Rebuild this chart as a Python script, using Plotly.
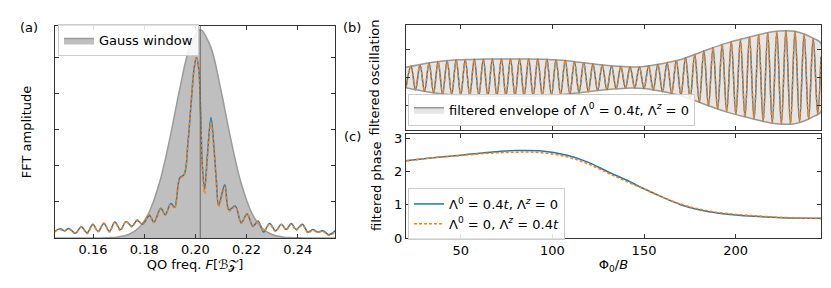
import plotly.graph_objects as go

W, H = 831, 288
def px(x):
    return x / W
def py(y):
    return 1 - y / H

# ---------------- (a) FFT spectrum ----------------
fft_freq = [0.1450, 0.1472, 0.1488, 0.1505, 0.1531, 0.1554, 0.1577, 0.1599, 0.1620, 0.1642,
            0.1664, 0.1685, 0.1707, 0.1729, 0.1752, 0.1772, 0.1794, 0.1820, 0.1838, 0.1865,
            0.1882, 0.1904, 0.1919, 0.1939, 0.1956, 0.1971, 0.1984, 0.1995, 0.2004, 0.2013,
            0.2021, 0.2027, 0.2036, 0.2047, 0.2061, 0.2073, 0.2082, 0.2091, 0.2115, 0.2131,
            0.2156, 0.2179, 0.2202, 0.2225, 0.2245, 0.2267, 0.2290, 0.2314, 0.2336, 0.2355,
            0.2375, 0.2394, 0.2418, 0.2440, 0.2459, 0.2479, 0.2498, 0.2522, 0.2547]
fft_amp_blue = [0.18, 0.25, 0.20, 0.26, 0.13, 0.31, 0.14, 0.38, 0.18, 0.40,
                0.18, 0.44, 0.23, 0.45, 0.32, 0.48, 0.38, 0.62, 0.44, 0.82,
                0.64, 0.95, 0.85, 1.66, 1.75, 2.64, 3.79, 4.68, 4.99, 4.68,
                3.35, 2.02, 1.35, 2.28, 3.33, 2.46, 1.57, 0.91, 1.47, 0.78,
                0.88, 0.42, 0.66, 0.32, 0.47, 0.16, 0.40, 0.20, 0.38, 0.23,
                0.40, 0.23, 0.38, 0.16, 0.23, 0.16, 0.20, 0.09, 0.20]
fft_amp_orange = [0.17, 0.23, 0.19, 0.24, 0.12, 0.30, 0.12, 0.36, 0.17, 0.41,
                  0.16, 0.43, 0.20, 0.46, 0.30, 0.50, 0.36, 0.65, 0.42, 0.80,
                  0.62, 0.93, 0.82, 1.64, 1.73, 2.62, 3.78, 4.68, 4.99, 4.66,
                  3.30, 1.95, 1.22, 2.20, 3.17, 2.36, 1.50, 0.86, 1.40, 0.74,
                  0.86, 0.40, 0.68, 0.35, 0.45, 0.19, 0.38, 0.18, 0.37, 0.22,
                  0.38, 0.21, 0.36, 0.14, 0.21, 0.15, 0.18, 0.07, 0.17]
gauss_freq = [0.145, 0.1619, 0.1659, 0.1699, 0.1739, 0.1779, 0.1819, 0.1859, 0.1899, 0.1939,
              0.1979, 0.2019, 0.2059, 0.2099, 0.2139, 0.2179, 0.2219, 0.2259, 0.2299, 0.2339,
              0.2379, 0.2419, 0.2547]
gauss_amp = [0, 0, 0.006, 0.027, 0.095, 0.28, 0.71, 1.51, 2.71, 4.12,
             5.30, 5.76, 5.30, 4.12, 2.71, 1.51, 0.71, 0.28, 0.095, 0.027,
             0.006, 0, 0]
gauss_center = 0.2019
freq_ticks = [0.16, 0.18, 0.20, 0.22, 0.24]
freq_ticklabels = ["0.16", "0.18", "0.20", "0.22", "0.24"]
amp_ticks = [0, 1, 2, 3, 4, 5]

# ---------------- (b) filtered oscillation ----------------
env_phi = [20.2, 28, 36, 45, 55, 65, 75, 85, 95, 105, 115, 125, 135, 143, 150,
           158, 164, 170, 178, 186, 195, 205, 213, 220, 227, 232, 238, 242, 246.5]
env_upper = [0.37, 0.47, 0.56, 0.62, 0.65, 0.67, 0.67, 0.67, 0.66, 0.62, 0.55, 0.47, 0.41, 0.38, 0.40,
             0.48, 0.56, 0.65, 0.84, 1.04, 1.24, 1.42, 1.55, 1.65, 1.69, 1.67, 1.55, 1.42, 1.23]
env_lower = [-0.37, -0.47, -0.56, -0.62, -0.65, -0.67, -0.67, -0.67, -0.66, -0.62, -0.55, -0.47, -0.41, -0.38, -0.40,
             -0.48, -0.56, -0.65, -0.84, -1.04, -1.24, -1.42, -1.55, -1.65, -1.69, -1.67, -1.55, -1.42, -1.23]
osc_phi = [20.2, 22.93, 25.39, 27.85, 30.31, 32.77, 35.24, 37.71, 40.17, 42.64,
           45.11, 47.57, 50.04, 52.51, 54.97, 57.44, 59.90, 62.36, 64.83, 67.30,
           69.77, 72.24, 74.71, 77.18, 79.66, 82.13, 84.61, 87.09, 89.56, 92.05,
           94.54, 97.02, 99.52, 102.02, 104.51, 107.02, 109.54, 112.05, 114.57, 117.10,
           119.62, 122.15, 124.69, 127.22, 129.75, 132.29, 134.81, 137.34, 139.87, 142.39,
           144.92, 147.45, 149.97, 152.50, 155.03, 157.54, 160.06, 162.58, 165.09, 167.61,
           170.12, 172.62, 175.13, 177.64, 180.13, 182.63, 185.13, 187.62, 190.11, 192.60,
           195.08, 197.58, 200.07, 202.55, 205.04, 207.51, 210.00, 212.49, 214.96, 217.45,
           219.93, 222.41, 224.89, 227.37, 229.85, 232.33, 234.81, 237.28, 239.76, 242.24,
           244.71, 246.5]
osc_val = [-0.37, 0.41, -0.44, 0.47, -0.50, 0.52, -0.55, 0.57, -0.59, 0.60,
           -0.62, 0.63, -0.64, 0.64, -0.65, 0.66, -0.66, 0.66, -0.67, 0.67,
           -0.67, 0.67, -0.67, 0.67, -0.67, 0.67, -0.67, 0.67, -0.67, 0.665,
           -0.66, 0.655, -0.645, 0.63, -0.62, 0.61, -0.59, 0.57, -0.55, 0.53,
           -0.51, 0.49, -0.47, 0.45, -0.44, 0.42, -0.41, 0.40, -0.39, 0.38,
           -0.38, 0.39, -0.40, 0.42, -0.45, 0.48, -0.51, 0.54, -0.57, 0.61,
           -0.65, 0.71, -0.77, 0.83, -0.89, 0.96, -1.02, 1.08, -1.13, 1.19,
           -1.24, 1.29, -1.33, 1.38, -1.42, 1.46, -1.50, 1.54, -1.58, 1.61,
           -1.65, 1.66, -1.68, 1.69, -1.68, 1.67, -1.62, 1.56, -1.50, 1.42,
           -1.32, 0.75]
assert len(osc_phi) == len(osc_val)
phi_ticks = [50, 100, 150, 200]
osc_ticks = [-1, 0, 1]

# ---------------- (c) filtered phase ----------------
phase_phi = [20.2, 35, 50, 66, 80, 93, 108, 119, 130, 140, 150, 160, 170, 180, 190, 200, 210, 225, 246.5]
phase_blue = [2.32, 2.41, 2.49, 2.58, 2.63, 2.62, 2.49, 2.29, 2.00, 1.75, 1.48, 1.23, 1.00, 0.85, 0.75, 0.69, 0.65, 0.61, 0.59]
phase_orange = [2.32, 2.41, 2.48, 2.55, 2.58, 2.57, 2.44, 2.24, 1.96, 1.71, 1.47, 1.23, 1.02, 0.87, 0.77, 0.71, 0.67, 0.62, 0.58]
phase_ticks = [0, 1, 2, 3]

BLUE = "#1f77b4"
ORANGE = "#ff7f0e"
FS = 13
lab_blue = "Λ<sup>0</sup> = 0.4<i>t</i>, Λ<sup><i>z</i></sup> = 0"
lab_orange = "Λ<sup>0</sup> = 0, Λ<sup><i>z</i></sup> = 0.4<i>t</i>"

fig = go.Figure()

# (a)
fig.add_trace(go.Scatter(x=gauss_freq, y=gauss_amp, mode="lines", line=dict(color="#9a9a9a", width=1.5, shape="spline"),
                         fill="tozeroy", fillcolor="rgba(128,128,128,0.5)", name="Gauss window",
                         xaxis="x", yaxis="y", legend="legend"))
fig.add_trace(go.Scatter(x=fft_freq, y=fft_amp_blue, mode="lines", line=dict(color=BLUE, width=1.5, shape="spline"),
                         showlegend=False, xaxis="x", yaxis="y"))
fig.add_trace(go.Scatter(x=fft_freq, y=fft_amp_orange, mode="lines",
                         line=dict(color=ORANGE, width=1.5, dash="3px,2px", shape="spline"),
                         showlegend=False, xaxis="x", yaxis="y"))

# (b)
fig.add_trace(go.Scatter(x=env_phi + env_phi[::-1], y=env_upper + env_lower[::-1], mode="lines",
                         line=dict(color="#999999", width=1.5, shape="spline"),
                         fill="toself", fillcolor="rgba(200,200,200,0.45)",
                         name="filtered envelope of " + lab_blue,
                         xaxis="x2", yaxis="y2", legend="legend2"))
fig.add_trace(go.Scatter(x=osc_phi, y=osc_val, mode="lines", line=dict(color=BLUE, width=1.5, shape="spline"),
                         showlegend=False, xaxis="x2", yaxis="y2"))
fig.add_trace(go.Scatter(x=osc_phi, y=osc_val, mode="lines",
                         line=dict(color=ORANGE, width=1.5, dash="3px,2px", shape="spline"),
                         showlegend=False, xaxis="x2", yaxis="y2"))

# (c)
fig.add_trace(go.Scatter(x=phase_phi, y=phase_blue, mode="lines", line=dict(color=BLUE, width=1.5, shape="spline"),
                         name=lab_blue, xaxis="x3", yaxis="y3", legend="legend3"))
fig.add_trace(go.Scatter(x=phase_phi, y=phase_orange, mode="lines",
                         line=dict(color=ORANGE, width=1.5, dash="3px,2px", shape="spline"),
                         name=lab_orange, xaxis="x3", yaxis="y3", legend="legend3"))

fig.add_shape(type="line", x0=gauss_center, x1=gauss_center, y0=0, y1=1, xref="x", yref="y domain",
              line=dict(color="#666666", width=1), layer="above")

axis_common = dict(showline=True, linecolor="#333333", linewidth=1, mirror="ticks", ticks="inside",
                   ticklen=4, tickwidth=1, tickcolor="#333333", showgrid=False, zeroline=False,
                   tickfont=dict(size=FS, color="black"))

legend_common = dict(xanchor="left", yanchor="top", bordercolor="#cccccc", borderwidth=1,
                     bgcolor="rgba(255,255,255,0.85)", font=dict(size=FS), itemwidth=30, tracegroupgap=0)

fig.update_layout(
    width=W, height=H, margin=dict(l=0, r=0, t=0, b=0),
    plot_bgcolor="white", paper_bgcolor="white",
    font=dict(family="DejaVu Sans", size=FS, color="black"),
    xaxis=dict(domain=[px(46.7), px(327.3)], range=[0.145, 0.2547], anchor="y",
               tickvals=freq_ticks, ticktext=freq_ticklabels,
               title=dict(text="QO freq. <i>F</i>[ℬ𝒵]", standoff=3, font=dict(size=FS)), **axis_common),
    yaxis=dict(domain=[py(235.9), py(15.7)], range=[0, 5.86], anchor="x", tickvals=amp_ticks,
               showticklabels=False, title=dict(text="FFT amplitude", standoff=19, font=dict(size=FS)), **axis_common),
    xaxis2=dict(domain=[px(398), px(813)], range=[20.2, 246.5], anchor="y2", tickvals=phi_ticks,
                showticklabels=False, **axis_common),
    yaxis2=dict(domain=[py(123.3), py(15)], range=[-1.88, 1.88], anchor="x2", tickvals=osc_ticks,
                showticklabels=False, title=dict(text="filtered oscillation", standoff=22, font=dict(size=FS)), **axis_common),
    xaxis3=dict(domain=[px(398), px(813)], range=[20.2, 246.5], anchor="y3", tickvals=phi_ticks,
                title=dict(text="Φ<sub>0</sub>/<i>B</i>", standoff=3, font=dict(size=FS)), **axis_common),
    yaxis3=dict(domain=[py(236), py(128.3)], range=[0, 3.115], anchor="x3", tickvals=phase_ticks,
                title=dict(text="filtered phase", standoff=9, font=dict(size=FS)), **axis_common),
    legend=dict(x=px(50), y=py(14), **legend_common),
    legend2=dict(x=px(400), y=py(86), **legend_common),
    legend3=dict(x=px(400), y=py(184), **legend_common),
    annotations=[
        dict(text="(a)", x=px(21), y=py(17.5), xref="paper", yref="paper", xanchor="center", yanchor="middle",
             showarrow=False, font=dict(size=FS)),
        dict(text="(b)", x=px(344), y=py(17), xref="paper", yref="paper", xanchor="center", yanchor="middle",
             showarrow=False, font=dict(size=FS)),
        dict(text="(c)", x=px(344), y=py(130), xref="paper", yref="paper", xanchor="center", yanchor="middle",
             showarrow=False, font=dict(size=FS)),
    ],
)

fig.write_html("out.html")
